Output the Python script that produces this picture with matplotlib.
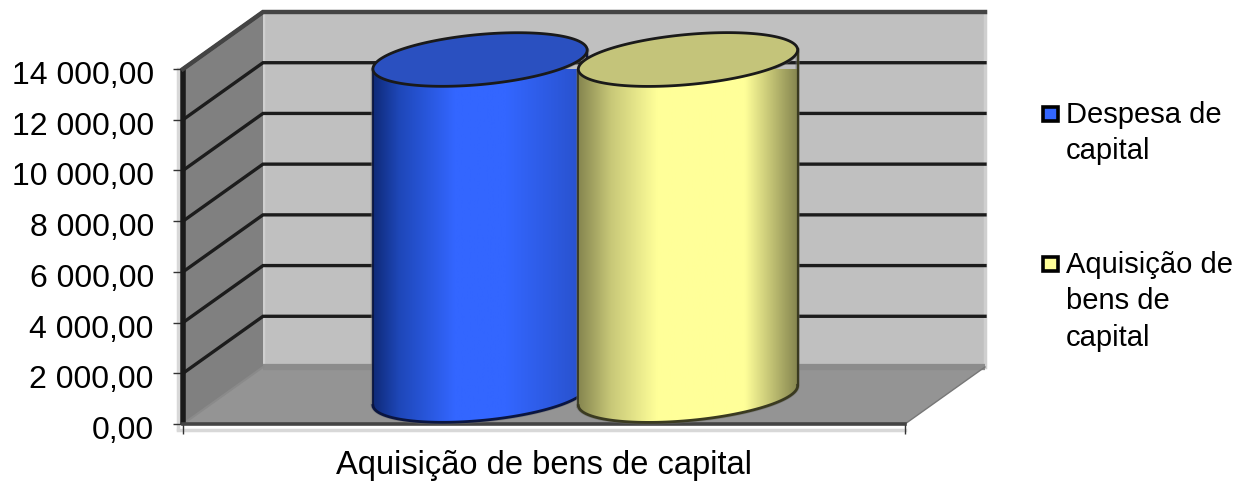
import numpy as np
from matplotlib import pyplot as plt
from matplotlib.colors import LinearSegmentedColormap
from matplotlib.patches import PathPatch, Polygon, Rectangle
from matplotlib.path import Path
from matplotlib.transforms import ScaledTranslation

plt.rcParams['font.family'] = ['Liberation Sans', 'DejaVu Sans']

category = 'Aquisição de bens de capital'
series_names = ['Despesa de\ncapital', 'Aquisição de\nbens de\ncapital']
series_values = [13250, 13250]
y_ticks = [0, 2000, 4000, 6000, 8000, 10000, 12000, 14000]
y_tick_labels = ['0,00', '2 000,00', '4 000,00', '6 000,00', '8 000,00',
                 '10 000,00', '12 000,00', '14 000,00']

# sizes of the fake 3d box, front plane is the axes itself
W, H = 1251, 482
AX_LEFT, AX_RIGHT, AX_TOP, AX_BOTTOM = 183, 905, 69, 424
Y_MAX = 14000
PX_X = AX_RIGHT - AX_LEFT
PX_Y = (AX_BOTTOM - AX_TOP) / Y_MAX
DEPTH_X = 80 / PX_X
DEPTH_Y = 57 / PX_Y

fig = plt.figure(figsize=(W / 100, H / 100), dpi=100)
ax = fig.add_axes([AX_LEFT / W, 1 - AX_BOTTOM / H, PX_X / W, (AX_BOTTOM - AX_TOP) / H])
ax.set_xlim(0, 1)
ax.set_ylim(0, Y_MAX)
for s in ax.spines.values():
    s.set_visible(False)


def gradient_fill(xs, ys, cmap, zorder):
    # horizontal colour ramp clipped to a polygon
    patch = PathPatch(Path(np.column_stack([xs, ys])), transform=ax.transData,
                      facecolor='none', edgecolor='none')
    ax.add_patch(patch)
    im = ax.imshow(np.linspace(0, 1, 256).reshape(1, -1), cmap=cmap, aspect='auto',
                   extent=[min(xs), max(xs), min(ys), max(ys)], zorder=zorder)
    im.set_clip_path(patch)


# soft light edge round the front of the box
ax.plot([-5 / PX_X, -5 / PX_X], [-200, Y_MAX], color='#d8d8d8', lw=2.5, clip_on=False, zorder=1)
ax.plot([-5 / PX_X, 1], [-220, -220], color='#d8d8d8', lw=2.5, clip_on=False, zorder=1)

# back wall, side wall, floor
ax.add_patch(Polygon([(DEPTH_X, DEPTH_Y), (1 + DEPTH_X, DEPTH_Y), (1 + DEPTH_X, Y_MAX + DEPTH_Y), (DEPTH_X, Y_MAX + DEPTH_Y)],
                     facecolor='#c0c0c0', edgecolor='#cfcfcf', lw=2.5, clip_on=False, zorder=1))
ax.add_patch(Polygon([(0, 0), (DEPTH_X, DEPTH_Y), (DEPTH_X, Y_MAX + DEPTH_Y), (0, Y_MAX)],
                     facecolor='#808080', edgecolor='none', clip_on=False, zorder=2))
ax.add_patch(Polygon([(0, 0), (1, 0), (1 + DEPTH_X, DEPTH_Y), (DEPTH_X, DEPTH_Y)],
                     facecolor='#949494', edgecolor='none', clip_on=False, zorder=2))

# gridlines run along the side wall and the back wall
for v in y_ticks[1:]:
    ax.plot([0, DEPTH_X, 1 + DEPTH_X], [v, v + DEPTH_Y, v + DEPTH_Y], color='#1c1c1c', lw=2.4,
            clip_on=False, zorder=3, solid_joinstyle='miter')
ax.plot([DEPTH_X, 1 + DEPTH_X], [DEPTH_Y, DEPTH_Y], color='#8c8c8c', lw=4.5, clip_on=False, zorder=3,
        solid_capstyle='butt')
ax.plot([DEPTH_X, 0], [DEPTH_Y, 0], color='#8a8a8a', lw=1.5, clip_on=False, zorder=3)
ax.plot([1 + DEPTH_X, 1], [DEPTH_Y, 0], color='#777777', lw=1, clip_on=False, zorder=3)

# front edges
ax.plot([0, 0], [0, Y_MAX], color='#1a1a1a', lw=4, clip_on=False, zorder=4, solid_capstyle='butt')
ax.plot([0, 1], [0, 0], color='#444444', lw=2.6, clip_on=False, zorder=4)
ax.plot([0, DEPTH_X, 1 + DEPTH_X], [Y_MAX, Y_MAX + DEPTH_Y, Y_MAX + DEPTH_Y], color='#444444', lw=3.2,
        clip_on=False, zorder=4, solid_joinstyle='miter')

# cylinders
bar_centers = [0.356, 0.644]
bar_widths = [0.298, 0.305]
body_colors = [
    [(0, '#0f2a78'), (0.12, '#1e47b8'), (0.38, '#3366ff'), (0.62, '#3366ff'), (1, '#2850c8')],
    [(0, '#85854f'), (0.15, '#c8c878'), (0.36, '#ffff99'), (0.76, '#ffff99'), (1, '#85854f')],
]
top_colors = ['#2a50c0', '#c4c47a']
edge_colors = ['#0a1540', '#3a3a20']
theta = np.arctan(20 / 215)
MINOR = 25


def ellipse_pts(cx, cy, a_px, t):
    # tilted ellipse worked out in pixels then put back in data units
    px = a_px * np.cos(t) * np.cos(theta) - MINOR * np.sin(t) * np.sin(theta)
    py = a_px * np.cos(t) * np.sin(theta) + MINOR * np.sin(t) * np.cos(theta)
    return cx + px / PX_X, cy + py / PX_Y


for i, val in enumerate(series_values):
    z = 5 + i * 2
    cx = bar_centers[i] + DEPTH_X / 2
    base_y = DEPTH_Y / 2
    top_y = val + DEPTH_Y / 2
    a_px = bar_widths[i] * PX_X / 2
    low = np.linspace(np.pi, 2 * np.pi, 80)
    bx, by = ellipse_pts(cx, base_y, a_px, low)
    tx, ty = ellipse_pts(cx, top_y, a_px, low[::-1])
    xs = np.concatenate([bx, tx])
    ys = np.concatenate([by, ty])
    cmap = LinearSegmentedColormap.from_list(f'body{i}', body_colors[i])
    # grey halo behind the outline
    ax.plot(np.append(xs, xs[0]), np.append(ys, ys[0]), color='#6e6e6e', lw=3, alpha=0.55,
            clip_on=False, zorder=z)
    gradient_fill(xs, ys, cmap, z)
    ax.plot(bx, by, color=edge_colors[i], lw=2, clip_on=False, zorder=z + 1)
    ax.plot([bx[0], tx[-1]], [by[0], ty[-1]], color=edge_colors[i], lw=1.3, clip_on=False, zorder=z + 1)
    ax.plot([bx[-1], tx[0]], [by[-1], ty[0]], color=edge_colors[i], lw=1.6, clip_on=False, zorder=z + 1)
    ring = np.linspace(0, 2 * np.pi, 160)
    ex, ey = ellipse_pts(cx, top_y, a_px, ring)
    ax.add_patch(Polygon(np.column_stack([ex, ey]), facecolor=top_colors[i], edgecolor='#1a1a1a',
                         lw=2, clip_on=False, zorder=z + 1))

ax.set_xlim(0, 1)
ax.set_ylim(0, Y_MAX)

# axes ticks and labels
ax.set_yticks(y_ticks)
ax.set_yticklabels(y_tick_labels, fontsize=23, color='black')
ax.tick_params(axis='y', length=7, width=1, color='#333333', pad=14)
ax.set_xticks([0.5])
ax.set_xticklabels([category], fontsize=23.5, color='black')
ax.set_xticks([0, 1], minor=True)
ax.tick_params(axis='x', which='major', length=0, pad=19)
ax.tick_params(axis='x', which='minor', length=7, width=1, color='#333333')

# tick labels sit a little under their ticks
nudge = ScaledTranslation(0, -2.5 / 72, fig.dpi_scale_trans)
for lab in ax.get_yticklabels():
    lab.set_transform(lab.get_transform() + nudge)

# legend, drawn by hand to get the line breaks right
legend_y = [114, 264]
for name, y, col in zip(series_names, legend_y, ['#3366ff', '#ffff99']):
    fig.add_artist(Rectangle((1043 / W, 1 - (y + 7) / H), 15 / W, 14 / H, transform=fig.transFigure,
                             facecolor=col, edgecolor='black', lw=2.6))
    fig.text(1066 / W, 1 - (y - 13) / H, name, fontsize=21, va='top', ha='left', linespacing=1.375)

plt.savefig('out.png', dpi=100)
